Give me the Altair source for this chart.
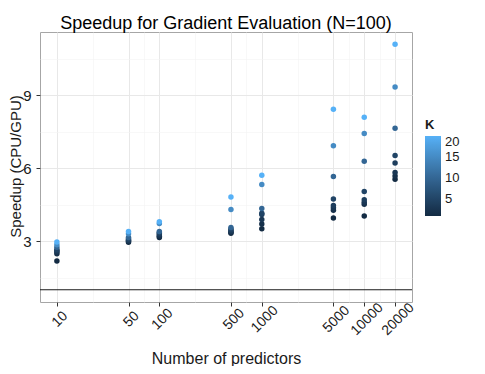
import altair as alt
import pandas as pd

predictors = [10, 50, 100, 500, 1000, 5000, 10000, 20000]
k_values = [1, 2, 3, 4, 5, 10, 15, 20]

speedup_10 = [2.18, 2.48, 2.55, 2.60, 2.65, 2.75, 2.85, 2.96]
speedup_50 = [2.95, 3.00, 3.02, 3.05, 3.10, 3.15, 3.30, 3.40]
speedup_100 = [3.15, 3.20, 3.25, 3.30, 3.35, 3.40, 3.72, 3.80]
speedup_500 = [3.32, 3.36, 3.40, 3.45, 3.50, 3.56, 4.30, 4.82]
speedup_1000 = [3.51, 3.70, 3.89, 4.10, 4.15, 4.34, 5.33, 5.71]
speedup_5000 = [3.95, 4.27, 4.37, 4.47, 4.73, 5.66, 6.92, 8.43]
speedup_10000 = [4.03, 4.52, 4.60, 4.70, 5.04, 6.29, 7.43, 8.10]
speedup_20000 = [5.55, 5.68, 5.82, 6.21, 6.52, 7.64, 9.34, 11.10]

reference_line = [1]

y_major = [3, 6, 9]
y_minor = [1.5, 4.5, 7.5, 10.5]

all_series = [speedup_10, speedup_50, speedup_100, speedup_500,
              speedup_1000, speedup_5000, speedup_10000, speedup_20000]
rows = []
for p, series in zip(predictors, all_series):
    for k, s in zip(k_values, series):
        rows.append({"p": p, "K": k, "speedup": s})
df = pd.DataFrame(rows)

x_minor = [(a * b) ** 0.5 for a, b in zip(predictors[:-1], predictors[1:])]

FONT = "Liberation Sans"
x_major_js = "[" + ",".join(str(v) for v in predictors) + "]"
y_major_js = "[" + ",".join(str(v) for v in y_major) + "]"

x_axis = alt.Axis(
    values=predictors + x_minor,
    labelExpr=f"indexof({x_major_js}, datum.value) >= 0 ? format(datum.value, 'd') : ''",
    labelAngle=-45,
    labelAlign="center",
    labelBaseline="middle",
    labelFontSize=14,
    labelColor="#1a1a1a",
    labelPadding=13,
    labelOffset=2.5,
    labelFlush=False,
    labelOverlap=False,
    tickOpacity={"condition": {"test": f"indexof({x_major_js}, datum.value) < 0", "value": 0}, "value": 1},
    gridColor={"condition": {"test": f"indexof({x_major_js}, datum.value) < 0", "value": "#f3f3f3"}, "value": "#e8e8e8"},
    gridWidth={"condition": {"test": f"indexof({x_major_js}, datum.value) < 0", "value": 0.6}, "value": 1},
    title="Number of predictors",
    titleFontSize=16,
    titleFontWeight="normal",
    titleColor="#1a1a1a",
    titleX=186,
    titleY=61,
    titleAlign="center",
    titleBaseline="alphabetic",
)

y_axis = alt.Axis(
    values=y_major + y_minor,
    labelExpr=f"indexof({y_major_js}, datum.value) >= 0 ? format(datum.value, 'd') : ''",
    labelFontSize=15,
    labelColor="#1a1a1a",
    labelPadding=5,
    tickOpacity={"condition": {"test": f"indexof({y_major_js}, datum.value) < 0", "value": 0}, "value": 1},
    gridColor={"condition": {"test": f"indexof({y_major_js}, datum.value) < 0", "value": "#f3f3f3"}, "value": "#e8e8e8"},
    gridWidth={"condition": {"test": f"indexof({y_major_js}, datum.value) < 0", "value": 0.6}, "value": 1},
    title="Speedup (CPU/GPU)",
    titleFontSize=15,
    titleFontWeight="normal",
    titleColor="#1a1a1a",
    titleAngle=270,
    titleX=-17,
    titleY=134,
    titleAlign="center",
    titleBaseline="bottom",
)

x_scale = alt.Scale(type="log", domain=[6.84, 29250], nice=False)
y_scale = alt.Scale(domain=[0.495, 11.605], nice=False, zero=False)

points = alt.Chart(df).mark_circle(size=30, opacity=1).encode(
    x=alt.X("p:Q", scale=x_scale, axis=x_axis),
    y=alt.Y("speedup:Q", scale=y_scale, axis=y_axis),
    color=alt.Color(
        "K:Q",
        scale=alt.Scale(domain=[1, 20], range=["#132B43", "#56B1F7"]),
        legend=alt.Legend(
            title="K",
            values=[5, 10, 15, 20],
            orient="none",
            legendX=385,
            legendY=87,
            gradientLength=80,
            gradientThickness=16,
            gradientStrokeWidth=0,
            titleFontSize=13,
            titleFontWeight="bold",
            titleColor="#1a1a1a",
            titlePadding=4,
            labelFontSize=13,
            labelColor="#1a1a1a",
            labelOffset=4,
            labelOverlap=False,
        ),
    ),
)

hline = alt.Chart(pd.DataFrame({"y": reference_line})).mark_rule(
    color="#1a1a1a", strokeWidth=1.2
).encode(y=alt.Y("y:Q", scale=y_scale))

chart = (
    alt.layer(points, hline)
    .properties(
        width=372,
        height=270,
        title=alt.TitleParams(
            "Speedup for Gradient Evaluation (N=100)",
            fontSize=18,
            fontWeight="normal",
            color="#000000",
            anchor="middle",
            offset=3,
            dy=4,
            font=FONT,
        ),
        autosize=alt.AutoSizeParams(type="none"),
        padding={"left": 32, "top": 24, "right": 65, "bottom": 64},
    )
    .configure(font=FONT, background="white")
    .configure_view(stroke="#a6a6a6", strokeWidth=1)
    .configure_axis(domain=False, tickColor="#333333", tickSize=4, tickWidth=1)
)

chart.save("out.html", embed_options={"renderer": "svg", "actions": False})
